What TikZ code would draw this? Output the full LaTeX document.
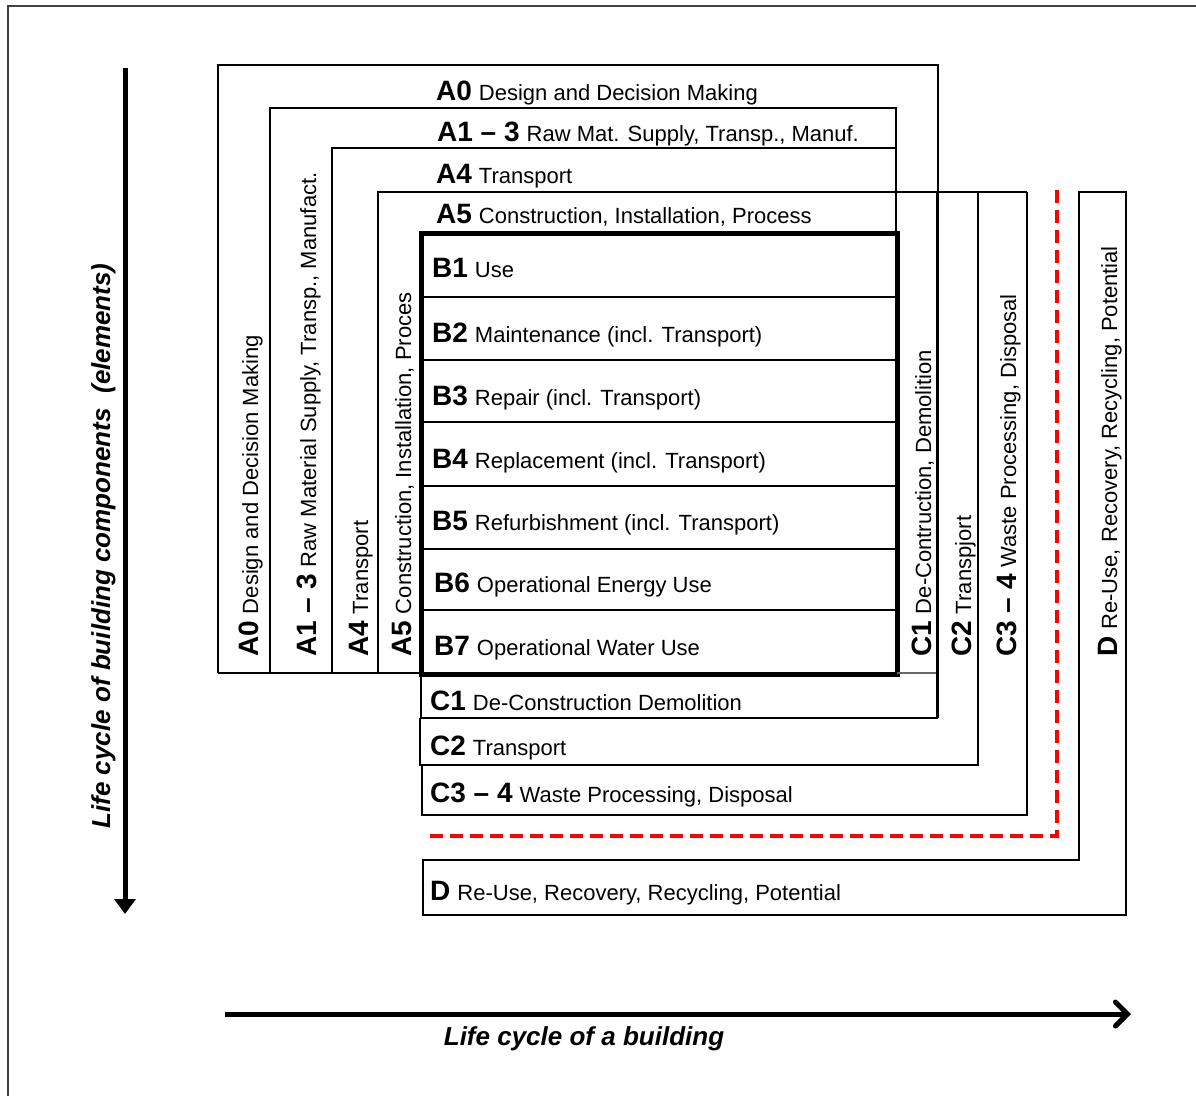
\documentclass[tikz,border=0pt]{standalone}
\usepackage{fontspec}
\setmainfont{Liberation Sans}
\usetikzlibrary{arrows.meta}
\newcommand\stgtxt[2]{{\fontsize{28}{30}\selectfont\bfseries #1}\hspace{7pt}{\fontsize{22}{24}\selectfont #2}}
\begin{document}
\begin{tikzpicture}[x=1pt,y=-1pt,
  ln/.style={line width=1.8pt,line join=miter},
  thk/.style={line width=5pt,line join=miter},
  hl/.style={anchor=base west,inner sep=0pt},
  vl/.style={anchor=base west,inner sep=0pt,rotate=90},
  axl/.style={inner sep=0pt,font=\fontsize{26}{28}\selectfont\bfseries\itshape}]
\useasboundingbox (0,0) rectangle (1196,1096);
% outer frame
\draw[line width=1.5pt,black!75] (1196,6) -- (8,6) -- (8,1096);
% A boxes
\draw[ln] (218,673) -- (218,65) -- (938,65) -- (938,192);
\draw[ln] (270,673) -- (270,108) -- (896,108) -- (896,232);
\draw[ln] (332,673) -- (332,148) -- (896,148);
\draw[ln] (378,673) -- (378,192) -- (1027,192);
\draw[ln] (218,673) -- (421,673);
% B rows
\foreach \yy in {297,360,422,486,549,610} \draw[ln] (421,\yy) -- (897,\yy);
\draw[thk] (421,233) rectangle (897,674);
% C boxes
\draw[line width=1.5pt,black!60] (897,673) -- (937,673);
\draw[line width=3pt] (937,192) -- (937,718);
\draw[ln] (938,718) -- (421,718) -- (421,674);
\draw[ln] (978,192) -- (978,765) -- (420,765) -- (420,718);
\draw[ln] (1027,192) -- (1027,815) -- (422,815) -- (422,765);
% red dashed boundary
\draw[red,line width=4pt,dash pattern=on 13pt off 7pt] (1057,190) -- (1057,836) -- (428,836);
% D
\draw[ln] (1079,860) -- (1079,192) -- (1126,192) -- (1126,915) -- (423,915) -- (423,860) -- cycle;
% horizontal labels
\node[hl] (tA0) at (436,100) {\stgtxt{A0}{Design and Decision Making}};
\node[hl] (tA13) at (437,141) {\stgtxt{A1 -- 3}{Raw Mat. Supply, Transp., Manuf.}};
\node[hl] (tA4) at (436,183) {\stgtxt{A4}{Transport}};
\node[hl] (tA5) at (436,223) {\stgtxt{A5}{Construction, Installation, Process}};
\node[hl] (tB1) at (432,277) {\stgtxt{B1}{Use}};
\node[hl] (tB2) at (432,342) {\stgtxt{B2}{Maintenance (incl. Transport)}};
\node[hl] (tB3) at (432,405) {\stgtxt{B3}{Repair (incl. Transport)}};
\node[hl] (tB4) at (432,468) {\stgtxt{B4}{Replacement (incl. Transport)}};
\node[hl] (tB5) at (432,530) {\stgtxt{B5}{Refurbishment (incl. Transport)}};
\node[hl] (tB6) at (434,592) {\stgtxt{B6}{Operational Energy Use}};
\node[hl] (tB7) at (434,655) {\stgtxt{B7}{Operational Water Use}};
\node[hl] (tC1) at (430,710) {\stgtxt{C1}{De-Construction Demolition}};
\node[hl] (tC2) at (430,755) {\stgtxt{C2}{Transport}};
\node[hl] (tC34) at (430,802) {\stgtxt{C3 -- 4}{Waste Processing, Disposal}};
\node[hl] (tD) at (430,900) {\stgtxt{D}{Re-Use, Recovery, Recycling, Potential}};
% vertical labels
\node[vl] (vA0) at (258,657) {\stgtxt{A0}{Design and Decision Making}};
\node[vl] (vA13) at (316,657) {\stgtxt{A1 -- 3}{Raw Material Supply, Transp., Manufact.}};
\node[vl] (vA4) at (368,657) {\stgtxt{A4}{Transport}};
\node[vl] (vA5) at (411,657) {\stgtxt{A5}{Construction, Installation, Proces}};
\node[vl] (vC1) at (931,657) {\stgtxt{C1}{De-Contruction, Demolition}};
\node[vl] (vC2) at (971,657) {\stgtxt{C2}{Transpjort}};
\node[vl] (vC34) at (1016,657) {\stgtxt{C3 -- 4}{Waste Processing, Disposal}};
\node[vl] (vD) at (1117,657) {\stgtxt{D}{Re-Use, Recovery, Recycling, Potential}};
% axes
\coordinate (vt) at (125,68);
\coordinate (vb) at (125,914);
\draw[line width=5pt,-{Triangle[width=21pt,length=15pt]}] (vt) -- (vb);
\coordinate (hs) at (225,1014);
\coordinate (he) at (1131,1014);
\draw[line width=5pt,-{Straight Barb[width=24pt,length=12pt,line cap=round]}] (hs) -- (he);
\node[axl,anchor=base,rotate=90] (ylab) at (110,546) {Life cycle of building components\ \ (elements)};
\node[axl,anchor=base] (xlab) at (584,1045) {Life cycle of a building};
\end{tikzpicture}
\end{document}
